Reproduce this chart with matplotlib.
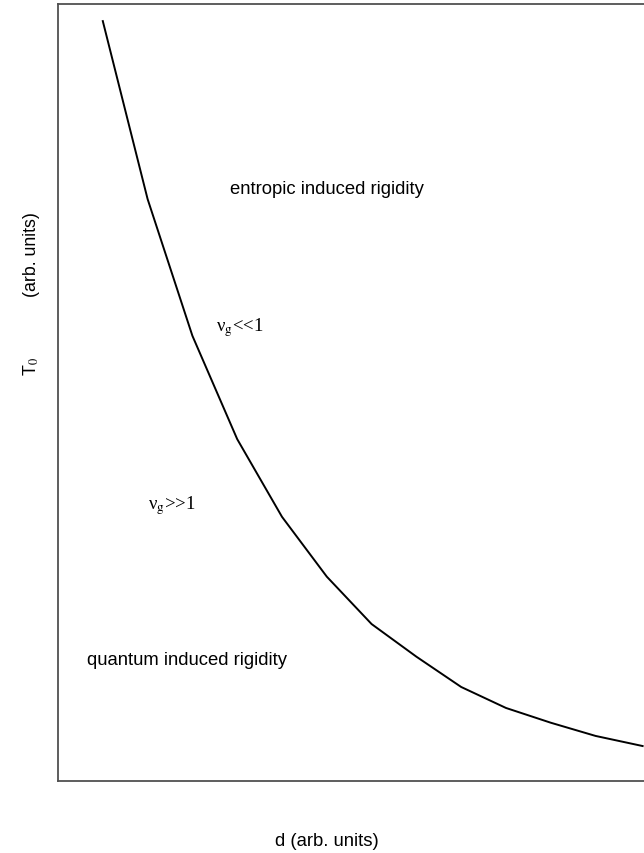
import matplotlib
matplotlib.use("Agg")
import matplotlib.pyplot as plt

# boundary curve between the two regimes (arb. units)
d = [1, 2, 3, 4, 5, 6, 7, 8, 9, 10, 11, 12, 13.05]
T0 = [9.78, 7.49, 5.73, 4.40, 3.40, 2.63, 2.02, 1.60, 1.21, 0.94, 0.75, 0.58, 0.45]

region_labels = ["entropic induced rigidity", "quantum induced rigidity"]
region_pos = [(6.0, 7.62), (2.87, 1.57)]
nu_labels = [u"\u03bd$_{\\rm g}$<<1", u"\u03bd$_{\\rm g}$>>1"]
nu_pos = [(4.06, 5.85), (2.54, 3.56)]

plt.rcParams["font.family"] = ["Liberation Sans", "DejaVu Sans"]
plt.rcParams["mathtext.fontset"] = "stix"

fig = plt.figure(figsize=(6.44, 8.54), dpi=100)
ax = fig.add_axes([58 / 644, 1 - 782 / 854, 590 / 644, 777 / 854])

ax.plot(d, T0, color="black", lw=1.4)
ax.set_xlim(0, 13.17)
ax.set_ylim(0, 10)
ax.set_xticks([])
ax.set_yticks([])
for s in ax.spines.values():
    s.set_color("#505050")
    s.set_linewidth(1.3)

for lab, (x, y) in zip(region_labels, region_pos):
    ax.text(x, y, lab, fontsize=13.3, ha="center", va="center")
for lab, (x, y) in zip(nu_labels, nu_pos):
    ax.text(x, y, lab, fontsize=13.5, ha="center", va="center",
            family=["Liberation Serif", "DejaVu Serif"])

fig.text(327 / 644, 1 - 842 / 854, "d (arb. units)", fontsize=13.3,
         ha="center", va="center")
fig.text(31 / 644, 1 - 255 / 854, "(arb. units)", fontsize=12.8,
         ha="center", va="center", rotation=90)
fig.text(31 / 644, 1 - 366 / 854, r"T$_{\rm 0}$", fontsize=13,
         ha="center", va="center", rotation=90)

fig.savefig("out.png", dpi=100)
